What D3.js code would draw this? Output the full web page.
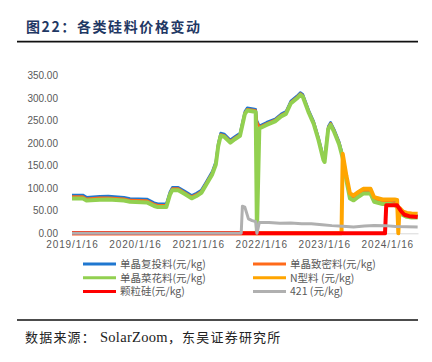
<!DOCTYPE html>
<html>
<head>
<meta charset="utf-8">
<script src="https://cdn.jsdelivr.net/npm/d3@7"></script>
<style>
  body { margin: 0; background: #fff; }
  text { font-family: "Noto Sans CJK SC", "Liberation Sans", sans-serif; }
</style>
</head>
<body>
<svg id="chart" width="432" height="362"></svg>
<script>
// weekly price points (元/kg)
const mainDates = ["2019-01-16","2019-03-20","2019-04-10","2019-06-26","2019-08-14","2019-11-13","2019-12-18",
  "2020-03-25","2020-05-06","2020-05-27","2020-07-15","2020-08-05","2020-08-19","2020-09-23","2020-10-28","2020-12-09",
  "2021-01-06","2021-02-03","2021-03-03","2021-04-07","2021-04-28","2021-05-12","2021-05-26","2021-06-16","2021-07-21",
  "2021-08-18","2021-09-15","2021-10-13","2021-10-27","2021-12-01","2021-12-15","2021-12-22",
  "2022-01-05","2022-02-16","2022-04-06","2022-05-11","2022-06-08","2022-07-06","2022-08-10","2022-08-31","2022-09-14",
  "2022-10-19","2022-11-16","2022-12-14","2023-01-11","2023-01-18","2023-02-08","2023-02-22","2023-03-15","2023-04-12",
  "2023-05-03","2023-05-24","2023-06-14","2023-07-05","2023-08-02","2023-08-30","2023-10-11","2023-11-01","2023-12-20",
  "2024-01-31","2024-02-28","2024-03-13","2024-03-27","2024-04-17","2024-05-08","2024-06-05","2024-07-10"];

const fuTou = [85,85,80,82,82.5,80,77,
  76,68,65.5,65.5,92,102,102,94,84,
  89,96,114,137,159,200,222,220,207,
  215,222,270,278,276,275,250,
  238,246,253.5,264.5,270,293,304,312,308,
  272,248,212,170,165,237,246,230,203.5,
  174,125.5,85,81,88.5,95.5,95.5,77,72,
  72,70,64,54,46,42,40,40];

const zhiMi = [81.5,81.5,76.5,78.5,79,76.5,73.5,
  72.5,64.5,62,62,88.5,99,99,91,81,
  86,93,111,134,156,197,219,217,204,
  212,219,267,275,273,272,247,
  235,243,251,262,267.5,290.5,301.5,309.5,305.5,
  269.5,245.5,209.5,167,162,234.5,243.5,227.5,201,
  171,122.5,82,78,86,93,93,74.5,69.5,
  69.5,67.5,61.5,51.5,43.5,39.5,38,38];

const caiHua = [77,77,72.5,74.5,75,72.5,70,
  68.5,60.5,58,58,85,95.5,95.5,87.5,77.5,
  82.5,89.5,107.5,130.5,152.5,193.5,216,214,201,
  209,216,264,272,270,269,0,
  232,240,248,259,264.5,287.5,298.5,306.5,302.5,
  266.5,242.5,206,163,158,231,240,224,197.5,
  167,118,77,73,81,88,88,70,65,
  65,63,58,48,40,36.5,35,35];

const nDates = ["2019-01-16","2023-04-26","2023-05-03","2023-05-24","2023-06-14","2023-07-05","2023-08-02","2023-08-30",
  "2023-10-11","2023-11-01","2023-12-20","2024-01-31","2024-02-28","2024-03-13","2024-03-20","2024-03-27",
  "2024-04-17","2024-05-08","2024-06-05","2024-07-10"];
const nType = [0,0,176,128,88,84,91.5,98.5,98.5,80,75,75,75,74,0,56,48,45,44,43.5];

const keliDates = ["2019-01-16","2024-01-03","2024-01-10","2024-03-13","2024-04-03","2024-04-24","2024-05-22","2024-07-10"];
const keli = [0,0,62,62,50,41,38,36];

const d421Dates = ["2019-01-16","2021-09-22","2021-09-29","2021-10-13","2021-11-03","2021-11-24","2021-12-15","2021-12-22",
  "2022-01-05","2022-03-02","2022-05-04","2022-07-06","2022-09-07","2022-11-02","2023-01-04","2023-03-01","2023-05-03",
  "2023-07-05","2023-09-06","2023-11-01","2024-01-03","2024-03-06","2024-07-10"];
const d421 = [0,0,60,58,32,28,26,0,24,24,22,23,21,21,19,17,15.5,14,16,17.5,17,15,14];

const yTicks = [0, 50, 100, 150, 200, 250, 300, 350];
const xTicks = ["2019-01-16","2020-01-16","2021-01-16","2022-01-16","2023-01-16","2024-01-16"];

const parse = d3.timeParse("%Y-%m-%d");
const svg = d3.select("#chart");

const x = d3.scaleTime()
  .domain([parse("2019-01-16"), parse("2024-07-12")])
  .range([72, 418]);
const y = d3.scaleLinear().domain([0, 350]).range([233.3, 75.3]);

// title + rules
svg.append("text")
  .attr("x", 26).attr("y", 32)
  .attr("fill", "#1f3864")
  .style("font-size", "14px").style("font-weight", "bold").style("letter-spacing", "1.6px")
  .text("图22：各类硅料价格变动");
svg.append("line").attr("x1", 17).attr("x2", 418).attr("y1", 41.7).attr("y2", 41.7)
  .attr("stroke", "#111").attr("stroke-width", 1.8);
svg.append("line").attr("x1", 17).attr("x2", 418).attr("y1", 320).attr("y2", 320)
  .attr("stroke", "#111").attr("stroke-width", 1.3);

// axes
svg.append("g")
  .attr("transform", "translate(58,0)")
  .call(d3.axisLeft(y).tickValues(yTicks).tickFormat(d3.format(".2f")).tickSize(0).tickPadding(0))
  .call(g => g.select(".domain").remove())
  .selectAll("text")
  .attr("fill", "#595959")
  .style("font-family", "'Liberation Sans', sans-serif").style("font-size", "10px");

const xAxis = svg.append("g")
  .attr("transform", "translate(0,233.3)")
  .call(d3.axisBottom(x).tickValues(xTicks.map(parse)).tickFormat(d3.timeFormat("%Y/%-m/%-d")).tickSize(0).tickPadding(8));
xAxis.select(".domain").attr("stroke", "#d9d9d9").attr("stroke-width", 1);
xAxis.selectAll("text")
  .attr("fill", "#595959")
  .style("font-family", "'Liberation Sans', sans-serif").style("font-size", "10px")
  .style("letter-spacing", "0.9px");

// series
const series = [
  { name: "单晶复投料(元/kg)", color: "#1f77d0", width: 2.5, dates: mainDates, values: fuTou },
  { name: "单晶致密料(元/kg)", color: "#ff6a1a", width: 2.5, dates: mainDates, values: zhiMi },
  { name: "单晶菜花料(元/kg)", color: "#92d050", width: 4, dates: mainDates, values: caiHua },
  { name: "N型料 (元/kg)", color: "#ffa500", width: 4, dates: nDates, values: nType },
  { name: "颗粒硅(元/kg)", color: "#ff0000", width: 4, dates: keliDates, values: keli },
  { name: "421 (元/kg)", color: "#b0b0b0", width: 3, dates: d421Dates, values: d421 }
];

const line = d3.line().x(d => x(d[0])).y(d => y(d[1]));

svg.append("g").selectAll("path")
  .data(series)
  .enter()
  .append("path")
  .attr("fill", "none")
  .attr("stroke", s => s.color)
  .attr("stroke-width", s => s.width)
  .attr("stroke-linejoin", "round")
  .attr("d", s => line(s.dates.map((d, i) => [parse(d), s.values[i]])));

// legend, two columns
const legend = svg.append("g").selectAll("g")
  .data(series)
  .enter()
  .append("g")
  .attr("transform", (s, i) => `translate(${i % 2 ? 253 : 83},${264 + Math.floor(i / 2) * 13.8})`);
legend.append("line")
  .attr("x1", 0).attr("x2", 33).attr("y1", 0).attr("y2", 0)
  .attr("stroke", s => s.color).attr("stroke-width", 3);
legend.append("text")
  .attr("x", 37).attr("y", 3.8)
  .attr("fill", "#595959")
  .style("font-size", "10.5px")
  .text(s => s.name);

// source
const src = svg.append("text").attr("x", 25).attr("y", 342).attr("fill", "#222")
  .style("font-size", "13px").style("letter-spacing", "1.2px");
src.append("tspan").text("数据来源：");
src.append("tspan").style("font-family", "'Liberation Serif', serif").style("font-size", "14.5px")
  .style("letter-spacing", "0.3px").text(" SolarZoom");
src.append("tspan").text("，东吴证券研究所");
</script>
</body>
</html>
